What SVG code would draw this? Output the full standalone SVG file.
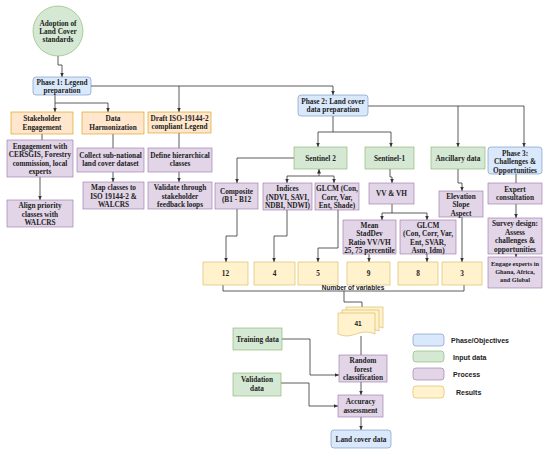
<svg xmlns="http://www.w3.org/2000/svg" width="550" height="456" viewBox="0 0 550 456">
<defs>
<marker id="ah" markerWidth="5" markerHeight="5" refX="4.5" refY="2.5" orient="auto" markerUnits="userSpaceOnUse">
<path d="M0,0.5 L4.5,2.5 L0,4.5 Z" fill="#333"/>
</marker>
<style>
.t{font-family:"Liberation Serif","Times New Roman",serif;font-weight:bold;font-size:7.3px;fill:#222;text-anchor:middle}
.ts{font-family:"Liberation Serif","Times New Roman",serif;font-weight:bold;font-size:6.3px;fill:#222;text-anchor:middle}
.s{font-family:"Liberation Sans",Arial,sans-serif;font-weight:bold;font-size:6.5px;fill:#222;text-anchor:middle}
.lg{font-family:"Liberation Sans",Arial,sans-serif;font-weight:bold;font-size:7px;fill:#222}
.bl{fill:#dae8fc;stroke:#6c8ebf;stroke-width:0.6}
.gr{fill:#d5e8d4;stroke:#82b366;stroke-width:0.6}
.or{fill:#ffe6cc;stroke:#d79b00;stroke-width:0.6}
.pu{fill:#e1d5e7;stroke:#9673a6;stroke-width:0.6}
.ye{fill:#fff2cc;stroke:#d6b656;stroke-width:0.6}
.c{fill:none;stroke:#333;stroke-width:0.8}
.a{marker-end:url(#ah)}
</style>
</defs>
<rect width="550" height="456" fill="#fff"/>

<g id="connectors">
<path class="c a" d="M58,56 V65 H62 V77"/>
<path class="c a" d="M55,95 V112"/>
<path class="c a" d="M55,103 H108 V112"/>
<path class="c a" d="M91,86 H333 V95"/>
<path class="c a" d="M179,86 V112"/>
<path class="c" d="M42,134 V140"/>
<path class="c a" d="M40,177 V200"/>
<path class="c" d="M113,134 V148"/>
<path class="c a" d="M113,172 V182"/>
<path class="c" d="M179,133 V148"/>
<path class="c a" d="M179,172 V182"/>
<path class="c a" d="M368,106 H524 V147"/>
<path class="c a" d="M458,106 V147"/>
<path class="c" d="M333,116 V132"/>
<path class="c" d="M318,132 H391"/>
<path class="c a" d="M318,132 V147"/>
<path class="c a" d="M391,132 V147"/>
<path class="c a" d="M294,158 H237 V183"/>
<path class="c a" d="M319,176 V169"/>
<path class="c" d="M287,176 H334"/>
<path class="c a" d="M287,176 V183"/>
<path class="c a" d="M334,176 V183"/>
<path class="c a" d="M390,169 V177 H392 V183"/>
<path class="c" d="M392,204 V213"/>
<path class="c" d="M382,213 H427"/>
<path class="c a" d="M382,213 V220"/>
<path class="c a" d="M427,213 V220"/>
<path class="c a" d="M458,169 V183 H462 V191"/>
<path class="c" d="M516,174 V183"/>
<path class="c a" d="M516,204 V218"/>
<path class="c a" d="M516,254 V257"/>
<path class="c a" d="M237,209 V236 H226 V262"/>
<path class="c a" d="M287,210 V236 H274 V262"/>
<path class="c a" d="M338,210 V248 H318 V262"/>
<path class="c a" d="M369,254 V262"/>
<path class="c a" d="M427,254 V262"/>
<path class="c a" d="M462,217 V262"/>
<path class="c" d="M223,285 V291 H464 V285"/>
<path class="c a" d="M344,291 V302 H362 V311"/>
<path class="c" d="M361,336 V355"/>
<path class="c a" d="M282,339 H310 V375 H339"/>
<path class="c a" d="M281,383 H309 V406 H338"/>
<path class="c a" d="M361,382 V395"/>
<path class="c a" d="M361,417 V430"/>
</g>

<g id="adoption">
<circle class="gr" cx="58" cy="31" r="25"/>
<text class="t" x="58" y="25.5">Adoption of</text>
<text class="t" x="58" y="33.5">Land Cover</text>
<text class="t" x="58" y="41.5">standards</text>
</g>

<g id="phase1">
<rect class="bl" x="33" y="77" width="58" height="18" rx="3"/>
<text class="t" x="62" y="84.5">Phase 1: Legend</text>
<text class="t" x="62" y="93">preparation</text>
</g>

<g id="stakeholder">
<rect class="or" x="11" y="112" width="62" height="22"/>
<text class="t" x="42" y="121">Stakeholder</text>
<text class="t" x="42" y="129.5">Engagement</text>
</g>
<g id="harmonization">
<rect class="or" x="82" y="112" width="62" height="22"/>
<text class="t" x="113" y="121">Data</text>
<text class="t" x="113" y="129.5">Harmonization</text>
</g>
<g id="draft">
<rect class="or" x="148" y="112" width="63" height="21"/>
<text class="t" x="179.5" y="120.5">Draft ISO-19144-2</text>
<text class="t" x="179.5" y="129">compliant Legend</text>
</g>

<g id="engagement">
<rect class="pu" x="7" y="140" width="66" height="37"/>
<text class="t" x="40" y="148.5">Engagement with</text>
<text class="t" x="40" y="157">CERSGIS, Forestry</text>
<text class="t" x="40" y="165.5">commission, local</text>
<text class="t" x="40" y="174">experts</text>
</g>
<g id="align">
<rect class="pu" x="7" y="200" width="66" height="27"/>
<text class="t" x="40" y="208">Align priority</text>
<text class="t" x="40" y="216.5">classes with</text>
<text class="t" x="40" y="225">WALCRS</text>
</g>
<g id="collect">
<rect class="pu" x="77" y="148" width="67" height="24"/>
<text class="t" x="110.5" y="157.5">Collect sub-national</text>
<text class="t" x="110.5" y="166">land cover dataset</text>
</g>
<g id="mapclasses">
<rect class="pu" x="83" y="182" width="61" height="27"/>
<text class="t" x="113.5" y="190">Map classes to</text>
<text class="t" x="113.5" y="198.5">ISO 19144-2 &amp;</text>
<text class="t" x="113.5" y="207">WALCRS</text>
</g>
<g id="define">
<rect class="pu" x="148" y="148" width="64" height="24"/>
<text class="t" x="180" y="157.5">Define hierarchical</text>
<text class="t" x="180" y="166">classes</text>
</g>
<g id="validate">
<rect class="pu" x="148" y="182" width="64" height="27"/>
<text class="t" x="180" y="190">Validate through</text>
<text class="t" x="180" y="198.5">stakeholder</text>
<text class="t" x="180" y="207">feedback loops</text>
</g>

<g id="phase2">
<rect class="bl" x="298" y="95" width="70" height="21" rx="3"/>
<text class="t" x="333" y="103.5">Phase 2: Land cover</text>
<text class="t" x="333" y="112">data preparation</text>
</g>
<g id="sentinel2">
<rect class="gr" x="294" y="147" width="53" height="22"/>
<text class="t" x="320.5" y="160.5">Sentinel 2</text>
</g>
<g id="sentinel1">
<rect class="gr" x="365" y="147" width="49" height="22"/>
<text class="t" x="389.5" y="160.5">Sentinel-1</text>
</g>
<g id="ancillary">
<rect class="gr" x="431" y="147" width="54" height="22"/>
<text class="t" x="458" y="160.5">Ancillary data</text>
</g>
<g id="phase3">
<rect class="bl" x="488" y="147" width="54" height="27" rx="3"/>
<text class="t" x="515" y="155.5">Phase 3:</text>
<text class="t" x="515" y="164">Challenges &amp;</text>
<text class="t" x="515" y="172.5">Opportunities</text>
</g>

<g id="composite">
<rect class="pu" x="215" y="183" width="43" height="26"/>
<text class="t" x="236.5" y="193.5">Composite</text>
<text class="t" x="236.5" y="202">(B1 - B12</text>
</g>
<g id="indices">
<rect class="pu" x="263" y="183" width="49" height="27"/>
<text class="t" x="287.5" y="191">Indices</text>
<text class="t" x="287.5" y="199.5">(NDVI, SAVI,</text>
<text class="t" x="287.5" y="208">NDBI, NDWI)</text>
</g>
<g id="glcm-s2">
<rect class="pu" x="315" y="183" width="44" height="27"/>
<text class="t" x="337" y="191">GLCM (Con,</text>
<text class="t" x="337" y="199.5">Corr, Var,</text>
<text class="t" x="337" y="208">Ent, Shade)</text>
</g>
<g id="vvvh">
<rect class="pu" x="369" y="183" width="45" height="21"/>
<text class="t" x="391.5" y="196">VV &amp; VH</text>
</g>
<g id="mean">
<rect class="pu" x="343" y="220" width="53" height="34"/>
<text class="t" x="369.5" y="227.5">Mean</text>
<text class="t" x="369.5" y="236">StadDev</text>
<text class="t" x="369.5" y="244.5">Ratio VV/VH</text>
<text class="t" x="369.5" y="253">25, 75 percentile</text>
</g>
<g id="glcm-s1">
<rect class="pu" x="400" y="220" width="56" height="34"/>
<text class="t" x="428" y="227.5">GLCM</text>
<text class="t" x="428" y="236">(Con, Corr, Var,</text>
<text class="t" x="428" y="244.5">Ent, SVAR,</text>
<text class="t" x="428" y="253">Asm, Idm)</text>
</g>
<g id="elevation">
<rect class="pu" x="439" y="191" width="44" height="26"/>
<text class="t" x="461" y="198.5">Elevation</text>
<text class="t" x="461" y="207">Slope</text>
<text class="t" x="461" y="215.5">Aspect</text>
</g>
<g id="expert">
<rect class="pu" x="488" y="183" width="54" height="21"/>
<text class="t" x="515" y="191.5">Expert</text>
<text class="t" x="515" y="200">consultation</text>
</g>
<g id="survey">
<rect class="pu" x="488" y="218" width="54" height="36"/>
<text class="t" x="515" y="226">Survey design:</text>
<text class="t" x="515" y="234.5">Assess</text>
<text class="t" x="515" y="243">challenges &amp;</text>
<text class="t" x="515" y="251.5">opportunities</text>
</g>
<g id="engage">
<rect class="pu" x="488" y="257" width="54" height="31"/>
<text class="ts" x="515" y="266">Engage experts in</text>
<text class="ts" x="515" y="274">Ghana, Africa,</text>
<text class="ts" x="515" y="282">and Global</text>
</g>

<g id="n12"><rect class="ye" x="203" y="262" width="45" height="23"/><text class="t" x="225.5" y="276">12</text></g>
<g id="n4"><rect class="ye" x="254" y="262" width="41" height="23"/><text class="t" x="274.5" y="276">4</text></g>
<g id="n5"><rect class="ye" x="298" y="262" width="40" height="23"/><text class="t" x="318" y="276">5</text></g>
<g id="n9"><rect class="ye" x="347" y="262" width="43" height="23"/><text class="t" x="368.5" y="276">9</text></g>
<g id="n8"><rect class="ye" x="398" y="262" width="40" height="23"/><text class="t" x="418" y="276">8</text></g>
<g id="n3"><rect class="ye" x="442" y="262" width="40" height="23"/><text class="t" x="462" y="276">3</text></g>
<text class="s" x="353" y="290">Number of variables</text>

<g id="n41">
<path class="ye" d="M346,307 H383 V328 Q374,324 364,328 T346,328 Z"/>
<path class="ye" d="M342,310 H379 V331 Q370,327 360,331 T342,331 Z"/>
<path class="ye" d="M338,313 H375 V334 Q366,330 356,334 T338,334 Z"/>
<text class="s" x="358" y="326">41</text>
</g>

<g id="training">
<rect class="gr" x="233" y="328" width="49" height="22"/>
<text class="t" x="257.5" y="341.5">Training data</text>
</g>
<g id="validation">
<rect class="gr" x="233" y="373" width="48" height="23"/>
<text class="t" x="257" y="382">Validation</text>
<text class="t" x="257" y="390.5">data</text>
</g>
<g id="randomforest">
<rect class="pu" x="339" y="355" width="48" height="27"/>
<text class="t" x="363" y="363">Random</text>
<text class="t" x="363" y="371.5">forest</text>
<text class="t" x="363" y="380">classification</text>
</g>
<g id="accuracy">
<rect class="pu" x="338" y="395" width="45" height="22"/>
<text class="t" x="360.5" y="404">Accuracy</text>
<text class="t" x="360.5" y="412.5">assessment</text>
</g>
<g id="landcover">
<rect class="bl" x="331" y="430" width="60" height="18" rx="3"/>
<text class="t" x="361" y="441.5">Land cover data</text>
</g>

<g id="legend">
<rect class="bl" x="413" y="334" width="31" height="12" rx="3"/>
<text class="lg" x="451" y="343">Phase/Objectives</text>
<rect class="gr" x="413" y="351" width="31" height="11" rx="3"/>
<text class="lg" x="453" y="359.5">Input data</text>
<rect class="pu" x="413" y="368" width="31" height="12" rx="3"/>
<text class="lg" x="453" y="377">Process</text>
<rect class="ye" x="413" y="386" width="31" height="12" rx="3"/>
<text class="lg" x="456" y="395">Results</text>
</g>
</svg>
